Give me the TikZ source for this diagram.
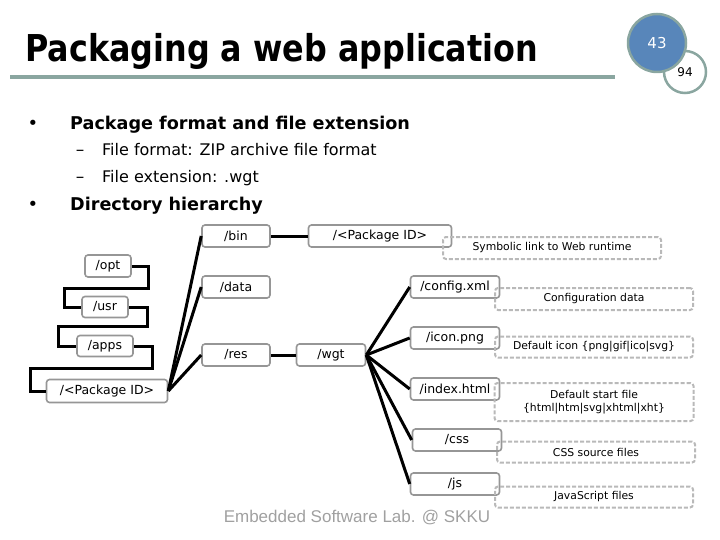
\documentclass[tikz,border=0pt]{standalone}
\usepackage{fontspec}
\setmainfont{DejaVu Sans}
\newfontfamily\titlefont{DejaVu Sans}[FakeStretch=0.86]
\newfontfamily\footfont{Liberation Sans}
\definecolor{rulegray}{RGB}{138,166,160}
\definecolor{pageblue}{RGB}{88,134,186}
\definecolor{boxgray}{RGB}{150,150,150}
\definecolor{notegray}{RGB}{185,185,185}
\definecolor{footgray}{RGB}{160,160,160}
\tikzset{
  dirbox/.style={draw=boxgray, line width=1.6pt, rounded corners=3pt, fill=white,
    inner sep=1pt, minimum height=22pt, font=\fontsize{12.5}{14}\selectfont},
  notebox/.style={draw=notegray, line width=2pt, dash pattern=on 4pt off 2pt,
    rounded corners=3pt, inner sep=1pt, minimum height=21pt, align=center,
    font=\fontsize{10.8}{13}\selectfont},
  link/.style={line width=3pt, black},
}
\begin{document}
\begin{tikzpicture}[x=1pt,y=-1pt]
\useasboundingbox (0,0) rectangle (720,540);

%draw the title and the page circles
\node [anchor=base west, inner sep=0, font=\titlefont\fontsize{37}{40}\selectfont\bfseries] (title) at (25,62) {Packaging a web application};
\draw [rulegray, line width=4pt] (10,77) -- (615,77);
\node [circle, draw=rulegray, line width=2.5pt, fill=white, minimum size=42pt, inner sep=0, font=\fontsize{12}{14}\selectfont] (total) at (685,72) {94};
\node [circle, draw=rulegray, line width=2.5pt, fill=pageblue, minimum size=58pt, inner sep=0, text=white, font=\fontsize{15}{17}\selectfont] (page) at (657,43) {43};

%draw the bullet list
\node [anchor=base, font=\fontsize{18}{20}\selectfont] at (33,130) {•};
\node [anchor=base west, inner sep=0, font=\fontsize{17.6}{20}\selectfont\bfseries] (itemA) at (70,130) {Package format and file extension};
\node [anchor=base, font=\fontsize{17}{18}\selectfont] at (80,156) {–};
\node [anchor=base west, inner sep=0, font=\fontsize{16}{18}\selectfont] (itemAa) at (102,156) {File format: ZIP archive file format};
\node [anchor=base, font=\fontsize{17}{18}\selectfont] at (80,183) {–};
\node [anchor=base west, inner sep=0, font=\fontsize{16}{18}\selectfont] (itemAb) at (102,183) {File extension: .wgt};
\node [anchor=base, font=\fontsize{18}{20}\selectfont] at (33,211) {•};
\node [anchor=base west, inner sep=0, font=\fontsize{17.6}{20}\selectfont\bfseries] (itemB) at (70,211) {Directory hierarchy};

%draw the directory boxes
\node [dirbox, minimum width=46pt] (opt) at (108,266) {/opt};
\node [dirbox, minimum width=46pt, minimum height=21pt] (usr) at (105,307) {/usr};
\node [dirbox, minimum width=56pt, minimum height=21pt] (apps) at (105,346) {/apps};
\node [dirbox, minimum width=121pt, minimum height=23pt] (pkgA) at (107,391) {/<Package ID>};
\node [dirbox, minimum width=68pt] (bin) at (236,236) {/bin};
\node [dirbox, minimum width=143pt] (pkgB) at (380,236) {/<Package ID>};
\node [dirbox, minimum width=68pt] (data) at (236,287) {/data};
\node [dirbox, minimum width=68pt] (res) at (236,355) {/res};
\node [dirbox, minimum width=69pt] (wgt) at (331,355) {/wgt};
\node [dirbox, minimum width=89pt] (config) at (455,287) {/config.xml};
\node [dirbox, minimum width=89pt] (icon) at (455,338) {/icon.png};
\node [dirbox, minimum width=89pt] (index) at (455,389) {/index.html};
\node [dirbox, minimum width=89pt] (css) at (457,440) {/css};
\node [dirbox, minimum width=89pt] (js) at (455,484) {/js};

%draw the links between directories
\draw [link] (opt.east) -| (148,288) -- (64,288) |- (usr.west);
\draw [link] (usr.east) -| (147,326) -- (58,326) |- (apps.west);
\draw [link] (apps.east) -| (152,368) -- (30,368) |- (pkgA.west);
\foreach \d in {bin,data,res} \draw [link] (pkgA.east) -- (\d.west);
\draw [link] (bin.east) -- (pkgB.west);
\draw [link] (res.east) -- (wgt.west);
\foreach \f in {config,icon,index,css,js} \draw [link] (wgt.east) -- (\f.west);

%draw the notes
\node [notebox, minimum width=218pt, minimum height=22pt] (symlink) at (552,248) {Symbolic link to Web runtime};
\node [notebox, minimum width=198pt, minimum height=22pt] (confnote) at (594,299) {Configuration data};
\node [notebox, minimum width=198pt] (iconnote) at (594,347) {Default icon \{png|gif|ico|svg\}};
\node [notebox, minimum width=199pt, minimum height=38pt] (startnote) at (594,402) {Default start file\\\{html|htm|svg|xhtml|xht\}};
\node [notebox, minimum width=198pt] (cssnote) at (596,452) {CSS source files};
\node [notebox, minimum width=198pt] (jsnote) at (594,497) {JavaScript files};

%draw the footer
\node [anchor=base, inner sep=0, text=footgray, font=\footfont\fontsize{17}{19}\selectfont] (footer) at (357,522) {Embedded Software Lab. @ SKKU};

\end{tikzpicture}
\end{document}
